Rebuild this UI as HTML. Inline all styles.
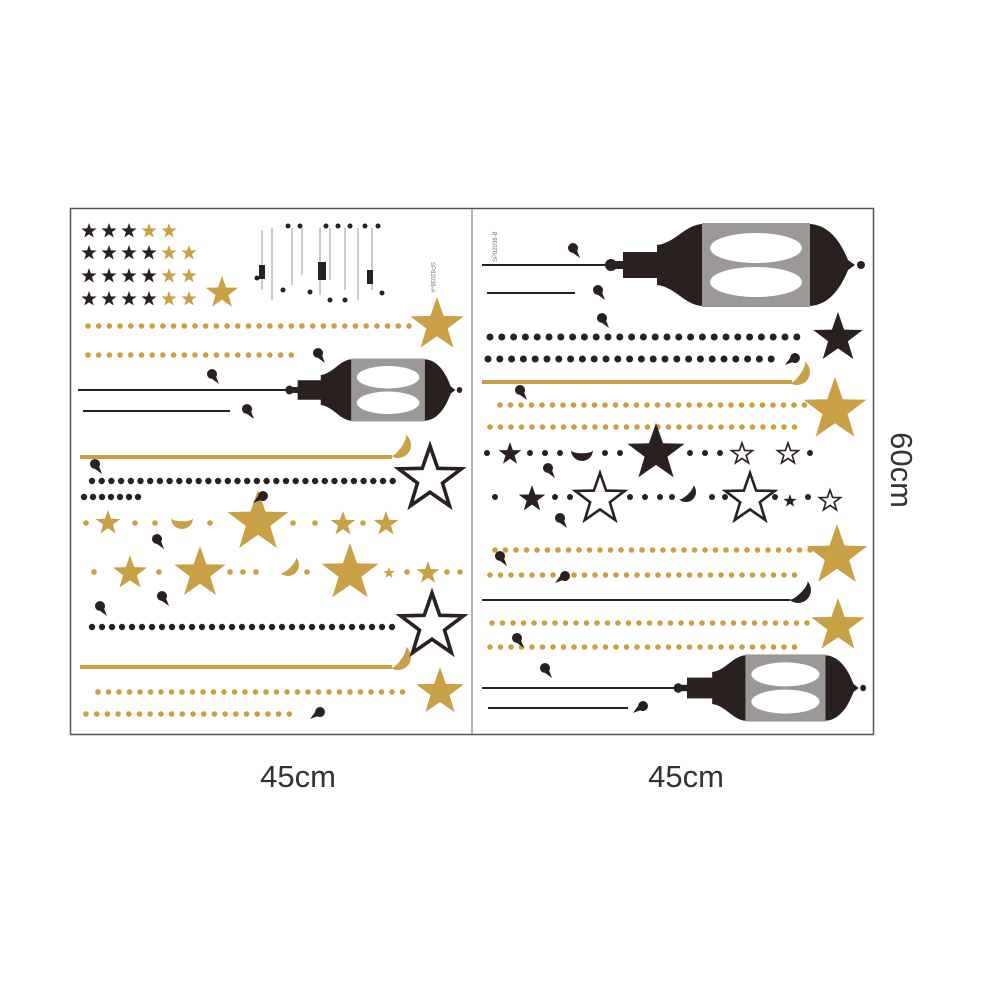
<!DOCTYPE html>
<html><head><meta charset="utf-8"><style>
html,body{margin:0;padding:0;background:#fff;width:1002px;height:1002px;overflow:hidden}
svg{display:block}
</style></head><body>
<svg width="1002" height="1002" viewBox="0 0 1002 1002" xmlns="http://www.w3.org/2000/svg">
<defs>
<path id="s" d="M0,-1 L.235,-.324 L.951,-.309 L.38,.124 L.588,.809 L0,.4 L-.588,.809 L-.38,.124 L-.951,-.309 L-.235,-.324Z"/>
<path id="m" d="M0,-1 A1,1 0 1,0 0,1 A0.3,1 0 1,1 0,-1 Z"/>
<path id="d" d="M-5,0 A5,5 0 1,1 4.2,2.8 L7,10 L0,4.9 A5,5 0 0,1 -5,0 Z"/>
<g id="lan">
<circle cx="11" cy="0" r="6" fill="#2b2020"/>
<rect x="15" y="-4" width="10" height="8" fill="#2b2020"/>
<rect x="23" y="-13" width="35" height="26" fill="#2b2020"/>
<path d="M57,-20 C75,-22 85,-40 102,-41 L102,41 C85,40 75,22 57,20 Z" fill="#2b2020"/>
<rect x="102" y="-42" width="108" height="84" fill="#9d9898"/>
<ellipse cx="156" cy="-17" rx="46" ry="15" fill="#fff"/>
<ellipse cx="156" cy="17" rx="46" ry="15" fill="#fff"/>
<path d="M210,-41 C228,-40 240,-25 248,-5 L255,0 L248,5 C240,25 228,40 210,41 Z" fill="#2b2020"/>
<circle cx="261" cy="0" r="4" fill="#2b2020"/>
</g>
</defs>
<rect x="70.5" y="208.5" width="803" height="526" fill="none" stroke="#555" stroke-width="1.5"/>
<line x1="472" y1="209" x2="472" y2="734" stroke="#999" stroke-width="1.5"/>

<g fill="#2b2020" stroke="none">
<use href="#s" transform="translate(89,231) scale(8)"/><use href="#s" transform="translate(109,231) scale(8)"/><use href="#s" transform="translate(129,231) scale(8)"/>
<use href="#s" transform="translate(89,253) scale(8)"/><use href="#s" transform="translate(109,253) scale(8)"/><use href="#s" transform="translate(129,253) scale(8)"/><use href="#s" transform="translate(149,253) scale(8)"/>
<use href="#s" transform="translate(89,276) scale(8)"/><use href="#s" transform="translate(109,276) scale(8)"/><use href="#s" transform="translate(129,276) scale(8)"/><use href="#s" transform="translate(149,276) scale(8)"/>
<use href="#s" transform="translate(89,299) scale(8)"/><use href="#s" transform="translate(109,299) scale(8)"/><use href="#s" transform="translate(129,299) scale(8)"/><use href="#s" transform="translate(149,299) scale(8)"/>
</g>
<g fill="#c9a045">
<use href="#s" transform="translate(149,231) scale(8)"/><use href="#s" transform="translate(169,231) scale(8)"/>
<use href="#s" transform="translate(169,253) scale(8)"/><use href="#s" transform="translate(189,253) scale(8)"/>
<use href="#s" transform="translate(169,276) scale(8)"/><use href="#s" transform="translate(189,276) scale(8)"/>
<use href="#s" transform="translate(169,299) scale(8)"/><use href="#s" transform="translate(189,299) scale(8)"/>
<use href="#s" transform="translate(222,293) scale(17)"/>
</g>
<g stroke="#bbb" stroke-width="1.5">
<line x1="262" y1="230" x2="262" y2="290"/><line x1="272" y1="228" x2="272" y2="300"/><line x1="292" y1="228" x2="292" y2="285"/><line x1="302" y1="228" x2="302" y2="275"/><line x1="320" y1="228" x2="320" y2="295"/><line x1="330" y1="228" x2="330" y2="280"/><line x1="345" y1="228" x2="345" y2="290"/><line x1="358" y1="228" x2="358" y2="300"/><line x1="372" y1="228" x2="372" y2="290"/>
</g>
<g fill="#2b2020">
<rect x="259" y="265" width="6" height="14"/><rect x="318" y="262" width="8" height="18"/><rect x="367" y="270" width="6" height="14"/>
<circle cx="288" cy="226" r="2.5"/><circle cx="300" cy="226" r="2.5"/><circle cx="326" cy="226" r="2.5"/><circle cx="338" cy="226" r="2.5"/><circle cx="350" cy="226" r="2.5"/><circle cx="365" cy="226" r="2.5"/><circle cx="378" cy="226" r="2.5"/>
<circle cx="257" cy="278" r="2.5"/><circle cx="283" cy="290" r="2.5"/><circle cx="310" cy="292" r="2.5"/><circle cx="345" cy="300" r="2.5"/><circle cx="382" cy="293" r="2.5"/><circle cx="330" cy="300" r="2.5"/>
</g>
<text x="0" y="0" transform="translate(431,262) rotate(90)" font-family="Liberation Sans, sans-serif" font-size="6" fill="#777">SP82038-A</text>
<text x="0" y="0" transform="translate(497,262) rotate(-90)" font-family="Liberation Sans, sans-serif" font-size="6" fill="#777">SP82038-B</text>

<!-- LEFT PANEL -->
<g stroke-linecap="round" fill="none">
<line x1="88" y1="326" x2="410" y2="326" stroke="#c9a045" stroke-width="5.6" stroke-dasharray="0 10.7"/>
<line x1="88" y1="355" x2="300" y2="355" stroke="#c9a045" stroke-width="5.6" stroke-dasharray="0 10.7"/>
<line x1="92" y1="481" x2="400" y2="481" stroke="#2b2020" stroke-width="6.4" stroke-dasharray="0 9.7"/>
<line x1="84" y1="497" x2="145" y2="497" stroke="#2b2020" stroke-width="6.4" stroke-dasharray="0 9"/>
<line x1="92" y1="627" x2="402" y2="627" stroke="#2b2020" stroke-width="6.4" stroke-dasharray="0 10"/>
<line x1="98" y1="692" x2="412" y2="692" stroke="#c9a045" stroke-width="5.6" stroke-dasharray="0 10.5"/>
<line x1="86" y1="714" x2="300" y2="714" stroke="#c9a045" stroke-width="5.6" stroke-dasharray="0 10.7"/>
<g stroke="#c9a045" stroke-width="5.6">
<line x1="86" y1="523" x2="86" y2="523"/><line x1="135" y1="523" x2="135" y2="523"/><line x1="155" y1="523" x2="155" y2="523"/><line x1="210" y1="523" x2="210" y2="523"/><line x1="293" y1="523" x2="293" y2="523"/><line x1="315" y1="523" x2="315" y2="523"/><line x1="363" y1="523" x2="363" y2="523"/>
<line x1="94" y1="572" x2="94" y2="572"/><line x1="159" y1="572" x2="159" y2="572"/><line x1="230" y1="572" x2="230" y2="572"/><line x1="243" y1="572" x2="243" y2="572"/><line x1="256" y1="572" x2="256" y2="572"/><line x1="307" y1="572" x2="307" y2="572"/><line x1="407" y1="572" x2="407" y2="572"/><line x1="447" y1="572" x2="447" y2="572"/><line x1="460" y1="572" x2="460" y2="572"/>
</g>
</g>
<g fill="#c9a045">
<use href="#s" transform="translate(437,325) scale(28)"/>
<rect x="80" y="455" width="312" height="4"/>
<use href="#m" transform="translate(398,445) rotate(215) scale(13)"/>
<rect x="80" y="665" width="312" height="4"/>
<use href="#m" transform="translate(398,657) rotate(215) scale(13)"/>
<use href="#s" transform="translate(108,523) scale(13)"/>
<use href="#m" transform="translate(182,518) rotate(-90) scale(11)"/>
<use href="#s" transform="translate(258,522) scale(32)"/>
<use href="#s" transform="translate(343,524) scale(13)"/>
<use href="#s" transform="translate(386,524) scale(13)"/>
<use href="#s" transform="translate(130,573) scale(18)"/>
<use href="#s" transform="translate(200,573) scale(27)"/>
<use href="#m" transform="translate(288,565) rotate(225) scale(11)"/>
<use href="#s" transform="translate(350,573) scale(30)"/>
<use href="#s" transform="translate(389,573) scale(6)"/>
<use href="#s" transform="translate(428,573) scale(12)"/>
<use href="#s" transform="translate(440,692) scale(25)"/>
</g>
<g fill="#fff" stroke="#2b2020">
<use href="#s" transform="translate(430,479) scale(33)" style="stroke-width:0.11"/>
<use href="#s" transform="translate(432,626) scale(33)" style="stroke-width:0.11"/>
</g>
<g stroke="#2b2020" stroke-width="2">
<line x1="78" y1="390" x2="290" y2="390"/>
<line x1="83" y1="411" x2="230" y2="411"/>
</g>
<g transform="translate(282,390) scale(0.68,0.75)"><use href="#lan"/></g>
<g fill="#2b2020">
<use href="#d" transform="translate(318,353)"/><use href="#d" transform="translate(212,374)"/><use href="#d" transform="translate(247,409)"/>
<use href="#d" transform="translate(95,464)"/><use href="#d" transform="translate(263,496) rotate(90)"/>
<use href="#d" transform="translate(157,539)"/><use href="#d" transform="translate(162,596)"/><use href="#d" transform="translate(100,606)"/>
<use href="#d" transform="translate(320,712) rotate(90)"/>
</g>

<!-- RIGHT PANEL -->
<g stroke="#2b2020" stroke-width="2">
<line x1="482" y1="265" x2="608" y2="265"/>
<line x1="487" y1="293" x2="575" y2="293"/>
<line x1="482" y1="600" x2="790" y2="600"/>
<line x1="482" y1="688" x2="676" y2="688"/>
<line x1="488" y1="708" x2="628" y2="708"/>
</g>
<g transform="translate(600,265)"><use href="#lan"/></g>
<g transform="translate(670,688) scale(0.74,0.8)"><use href="#lan"/></g>
<g stroke-linecap="round" fill="none">
<line x1="490" y1="337" x2="805" y2="337" stroke="#2b2020" stroke-width="7" stroke-dasharray="0 11.8"/>
<line x1="488" y1="359" x2="780" y2="359" stroke="#2b2020" stroke-width="7" stroke-dasharray="0 11.8"/>
<line x1="500" y1="405" x2="805" y2="405" stroke="#c9a045" stroke-width="5.6" stroke-dasharray="0 10.5"/>
<line x1="490" y1="427" x2="805" y2="427" stroke="#c9a045" stroke-width="5.6" stroke-dasharray="0 10.5"/>
<line x1="495" y1="550" x2="812" y2="550" stroke="#c9a045" stroke-width="5.6" stroke-dasharray="0 10.5"/>
<line x1="490" y1="575" x2="805" y2="575" stroke="#c9a045" stroke-width="5.6" stroke-dasharray="0 10.5"/>
<line x1="492" y1="623" x2="812" y2="623" stroke="#c9a045" stroke-width="5.6" stroke-dasharray="0 10.5"/>
<line x1="490" y1="647" x2="805" y2="647" stroke="#c9a045" stroke-width="5.6" stroke-dasharray="0 10.5"/>
<g stroke="#2b2020" stroke-width="6">
<line x1="487" y1="453" x2="487" y2="453"/><line x1="530" y1="453" x2="530" y2="453"/><line x1="545" y1="453" x2="545" y2="453"/><line x1="560" y1="453" x2="560" y2="453"/><line x1="605" y1="453" x2="605" y2="453"/><line x1="620" y1="453" x2="620" y2="453"/><line x1="690" y1="453" x2="690" y2="453"/><line x1="705" y1="453" x2="705" y2="453"/><line x1="720" y1="453" x2="720" y2="453"/><line x1="810" y1="453" x2="810" y2="453"/>
<line x1="495" y1="497" x2="495" y2="497"/><line x1="555" y1="497" x2="555" y2="497"/><line x1="570" y1="497" x2="570" y2="497"/><line x1="630" y1="497" x2="630" y2="497"/><line x1="645" y1="497" x2="645" y2="497"/><line x1="660" y1="497" x2="660" y2="497"/><line x1="672" y1="497" x2="672" y2="497"/><line x1="712" y1="497" x2="712" y2="497"/><line x1="725" y1="497" x2="725" y2="497"/><line x1="775" y1="497" x2="775" y2="497"/><line x1="808" y1="497" x2="808" y2="497"/>
</g>
</g>
<g fill="#2b2020">
<use href="#s" transform="translate(838,338) scale(26)"/>
<use href="#s" transform="translate(510,454) scale(12)"/>
<use href="#m" transform="translate(582,450) rotate(-90) scale(11)"/>
<use href="#s" transform="translate(656,453) scale(30)"/>
<use href="#s" transform="translate(532,499) scale(14)"/>
<use href="#m" transform="translate(686,492) rotate(225) scale(10)"/>
<use href="#s" transform="translate(790,501) scale(7)"/>
<use href="#m" transform="translate(798,590) rotate(225) scale(13)"/>
<use href="#d" transform="translate(573,248)"/><use href="#d" transform="translate(598,290)"/><use href="#d" transform="translate(602,318)"/>
<use href="#d" transform="translate(795,358) rotate(90)"/><use href="#d" transform="translate(520,390)"/>
<use href="#d" transform="translate(548,468)"/><use href="#d" transform="translate(560,518)"/><use href="#d" transform="translate(500,556)"/>
<use href="#d" transform="translate(565,576) rotate(90)"/><use href="#d" transform="translate(517,638)"/><use href="#d" transform="translate(545,668)"/>
<use href="#d" transform="translate(643,706) rotate(90)"/>
</g>
<g fill="#c9a045">
<rect x="482" y="380" width="310" height="4"/>
<use href="#m" transform="translate(797,372) rotate(215) scale(13)"/>
<use href="#s" transform="translate(835,410) scale(33)"/>
<use href="#s" transform="translate(837,556) scale(32)"/>
<use href="#s" transform="translate(838,626) scale(28)"/>
</g>
<g fill="#fff" stroke="#2b2020">
<use href="#s" transform="translate(742,454) scale(11)" style="stroke-width:0.15"/>
<use href="#s" transform="translate(788,454) scale(11)" style="stroke-width:0.15"/>
<use href="#s" transform="translate(600,499) scale(26)" style="stroke-width:0.1"/>
<use href="#s" transform="translate(750,499) scale(26)" style="stroke-width:0.1"/>
<use href="#s" transform="translate(830,501) scale(11)" style="stroke-width:0.15"/>
</g>

<g font-family="Liberation Sans, sans-serif" font-size="31" fill="#333">
<text x="298" y="787" text-anchor="middle">45cm</text>
<text x="686" y="787" text-anchor="middle">45cm</text>
<text x="0" y="0" transform="translate(891,470) rotate(90)" text-anchor="middle">60cm</text>
</g>
</svg>
</body></html>
